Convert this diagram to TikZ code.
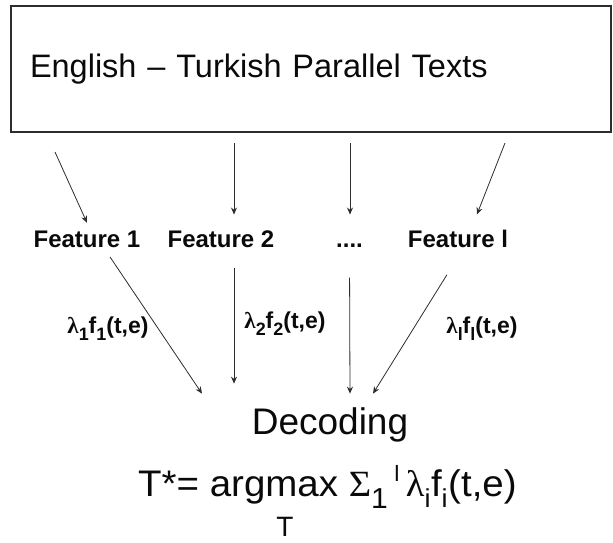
\documentclass[tikz,border=0pt]{standalone}
\usepackage{fontspec}
\setmainfont{Liberation Sans}
\newfontfamily\symb{Liberation Serif}
\usetikzlibrary{positioning,arrows.meta,calc}
\definecolor{ink}{RGB}{10,10,10}
\definecolor{edge}{RGB}{45,45,45}
\newcommand\lowsub[1]{\raisebox{-0.3em}{\scalebox{0.78}{#1}}}
\newcommand\highsup[1]{\raisebox{0.42em}{\scalebox{0.6}{#1}}}
\tikzset{
  srcbox/.style={draw=edge, line width=1.2pt, minimum width=600pt, minimum height=126pt,
              inner xsep=19pt, text width=562pt, align=left, text=ink,
              font=\fontsize{32.5}{38}\selectfont},
  feat/.style={anchor=base, inner xsep=3pt, inner ysep=8.5pt, text=ink,
              font=\bfseries\fontsize{24}{28}\selectfont},
  wlbl/.style={text=ink, font=\bfseries\fontsize{23}{26}\selectfont},
  dec/.style={anchor=base, text=ink, font=\fontsize{37}{42}\selectfont},
  arr/.style={-{Stealth[length=7pt,width=6pt]}, line width=0.8pt, draw=edge},
}

\begin{document}
\begin{tikzpicture}[x=1pt, y=1pt]
  \useasboundingbox (0,0) rectangle (613,543);
  \clip (0,0) rectangle (613,543);

  % corpus box
  \node[srcbox] (src) at (311,474) {English -- Turkish Parallel Texts};

  % feature row
  \node[feat] (f1) at (87,295) {Feature 1};
  \node[feat] (f2) at (221,295) {Feature 2};
  \node[feat] (fdots) at (349.5,295) {....};
  \node[feat] (fl) at (458,295) {Feature l};

  \coordinate (s1) at (55,391);
  \coordinate (s2) at (234,400);
  \coordinate (s3) at (350,400);
  \coordinate (s4) at (505,400);

  \draw[arr] (s1) -- (f1.north);
  \draw[arr, shorten >=8pt] (s2) -- (s2 |- f2.north);
  \draw[arr, shorten >=8pt] (s3) -- (s3 |- f2.north);
  \draw[arr, shorten >=8pt] (s4) -- ([xshift=16pt]fl.north);

  % decoding
  \node[dec] (dec) at (330,108) {Decoding};
  \node[dec, anchor=base west, inner xsep=0pt] (obj) at (138,46)
    {\scalebox{1.04}[1]{T*= argmax {\symb Σ}\lowsub{1}\,\highsup{l}\,{\symb λ}\textsubscript{i}f\textsubscript{i}(t,e)}};
  \node[dec, font=\fontsize{28}{32}\selectfont, inner ysep=1pt] (lim) at (285,6) {T};

  \draw[arr] ([xshift=23pt]f1.south) -- ($(dec.north)+(-128,11)$);
  \draw[arr, shorten <=11pt, shorten >=21pt] ([xshift=13pt]f2.south) -- ([xshift=13pt]f2.south |- dec.north);
  \draw[arr, shorten <=21pt] (fdots.south) -- ($(dec.north)+(20,11)$);
  \draw[arr, shorten <=21pt] (fl.south) -- ($(dec.north)+(43,11)$);

  % weights
  \node[wlbl] (w1) at (108,214) {{\symb λ}\lowsub{1}f\lowsub{1}(t,e)};
  \node[wlbl] (w2) at (285,219) {{\symb λ}\lowsub{2}f\lowsub{2}(t,e)};
  \node[wlbl] (wl) at (482,214) {{\symb λ}\lowsub{l}f\lowsub{l}(t,e)};
\end{tikzpicture}
\end{document}
